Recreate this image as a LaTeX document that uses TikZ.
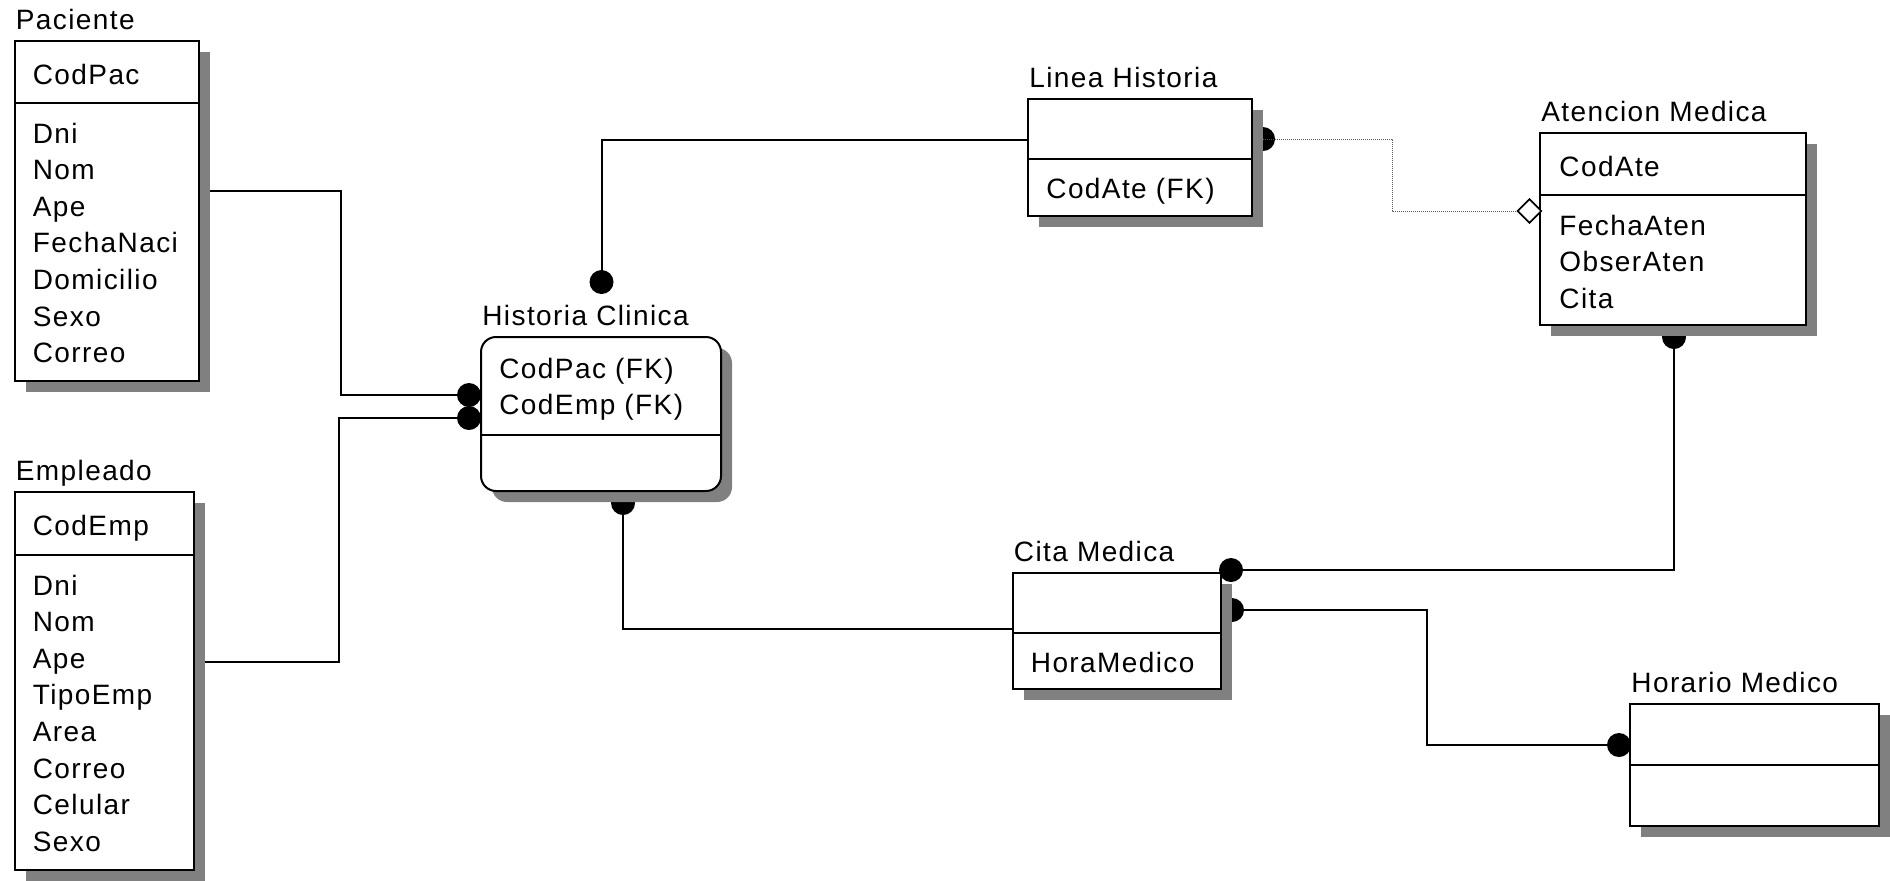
\documentclass[tikz,border=0pt]{standalone}
\usepackage{fontspec}
\setmainfont{Liberation Sans}[LetterSpace=5]
\usetikzlibrary{fit,shapes.geometric}

\pgfdeclarelayer{paper}
\pgfdeclarelayer{links}
\pgfdeclarelayer{shadows}
\pgfsetlayers{paper,links,shadows,main}

\tikzset{
  entline/.style={draw=black, line width=1pt, fill=white, inner sep=0pt, outer sep=0pt},
  divider/.style={draw=black, line width=1pt},
  shade/.style={fill=black!50},
  lbl/.style={anchor=base west, inner sep=0pt, font=\fontsize{14}{17}\selectfont},
  rel/.style={draw=black, line width=1pt},
  optrel/.style={draw=black!65, line width=0.5pt, dash pattern=on 0.5pt off 0.5pt},
  dotend/.style={circle, fill=black, inner sep=0pt, minimum size=12pt},
  hollow/.style={diamond, draw=black, fill=white, line width=0.8pt, inner sep=0pt, minimum size=12pt},
}

% entity box: name, title, left, top, right, bottom, divider y, corner style
\newcommand{\erent}[8]{%
  \begin{pgfonlayer}{shadows}
    \fill[shade,#8] (#3+11,#4+11) rectangle (#5+11,#6+11);
  \end{pgfonlayer}
  \node[entline,#8,fit={(#3,#4)(#5,#6)}] (#1) {};
  \draw[divider] (#3,#7) -- (#5,#7);
  \node[lbl] (#1-title) at (#3+1,#4-11.5) {#2};
}
% attribute rows: name prefix, x, first baseline, step, list
\newcommand{\errows}[5]{%
  \foreach \t [count=\i from 0] in {#5}
    \node[lbl] (#1-\i) at (#2,#3+#4*\i) {\t};
}

\begin{document}
\begin{tikzpicture}[x=0.5pt,y=-0.5pt]
\begin{pgfonlayer}{paper}
  \fill[white] (0,0) rectangle (1890,880);
\end{pgfonlayer}
\useasboundingbox (0,0) rectangle (1890,880);

% entities
\erent{pac}{Paciente}{14.5}{41}{199}{381}{102.5}{sharp corners}
\node[lbl] (pac-key) at (32.5,84) {CodPac};
\errows{pac}{32.5}{143}{36.6}{Dni,Nom,Ape,FechaNaci,Domicilio,Sexo,Correo}

\erent{emp}{Empleado}{14.5}{492}{194}{870}{554.5}{sharp corners}
\node[lbl] (emp-key) at (32.5,535) {CodEmp};
\errows{emp}{32.5}{595}{36.6}{Dni,Nom,Ape,TipoEmp,Area,Correo,Celular,Sexo}

\erent{his}{Historia Clinica}{481}{337}{721}{491}{435}{rounded corners=7.5pt}
\errows{his}{499}{378}{36.6}{CodPac (FK),CodEmp (FK)}

\erent{lin}{Linea Historia}{1028}{99}{1252}{216}{159}{sharp corners}
\node[lbl] (lin-0) at (1046,198) {CodAte (FK)};

\erent{ate}{Atencion Medica}{1540}{133}{1806}{325}{195}{sharp corners}
\node[lbl] (ate-key) at (1559,176) {CodAte};
\errows{ate}{1559}{235}{36.6}{FechaAten,ObserAten,Cita}

\erent{cit}{Cita Medica}{1012.5}{573}{1221}{689}{633}{sharp corners}
\node[lbl] (cit-0) at (1030.5,672) {HoraMedico};

\erent{hor}{Horario Medico}{1630}{704}{1879}{826}{765}{sharp corners}

% relationships
\begin{pgfonlayer}{links}
  % Paciente -> Historia Clinica
  \coordinate (k1) at (341,190.5);
  \coordinate (k2) at (341,395);
  \draw[rel] (pac.east |- k1) -- (k1) -- (k2) -- (his.west |- k2);
  \node[dotend] (d1) at (469,395) {};
  % Empleado -> Historia Clinica
  \coordinate (k3) at (339,662);
  \coordinate (k4) at (339,418);
  \draw[rel] (emp.east |- k3) -- (k3) -- (k4) -- (his.west |- k4);
  \node[dotend] (d2) at (469,418) {};
  % Linea Historia -> Historia Clinica
  \coordinate (k5) at (601.5,140);
  \coordinate (k6) at (601.5,294);
  \draw[rel] (lin.west |- k5) -- (k5) -- (k6);
  \node[dotend] (d3) at (601.5,282) {};
  % Linea Historia -> Atencion Medica
  \node[dotend] (d4) at (1263,139) {};
  \coordinate (k7) at (1392,139);
  \coordinate (k8) at (1392,211);
  \node[hollow] (dm) at (1529.5,211) {};
  \draw[optrel] (d4.center) -- (k7) -- (k8) -- (dm.west);
  % Historia Clinica -> Cita Medica
  \node[dotend] (d5) at (623,503) {};
  \coordinate (k9) at (623,629);
  \draw[rel] (d5.center) -- (k9) -- (cit.west |- k9);
  % Atencion Medica -> Cita Medica
  \node[dotend] (d6) at (1674,337) {};
  \coordinate (k10) at (1674,570);
  \coordinate (k11) at (1231,570);
  \draw[rel] (d6.center) -- (k10) -- (k11);
  % Cita Medica -> Horario Medico
  \node[dotend] (d8) at (1232,610) {};
  \coordinate (k12) at (1427,610);
  \coordinate (k13) at (1427,745);
  \draw[rel] (d8.center) -- (k12) -- (k13) -- (hor.west |- k13);
  \node[dotend] (d9) at (1619,745) {};
\end{pgfonlayer}
\node[hollow] at (dm) {};
\node[dotend] (d7) at (k11) {};
\end{tikzpicture}
\end{document}
